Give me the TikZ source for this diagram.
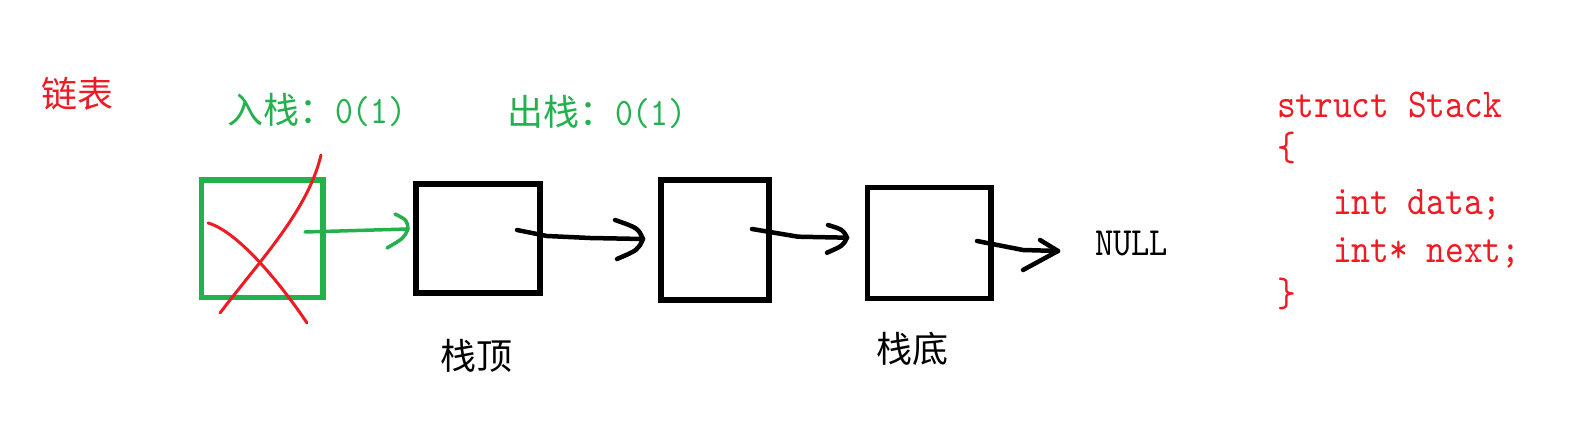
\documentclass[tikz,border=0pt]{standalone}
\usepackage{fontspec}
\newfontfamily\cjk{Noto Sans CJK SC}
\newfontfamily\codefont{lmmono10-regular.otf}[FakeStretch=0.87]
\usetikzlibrary{calc}
\definecolor{pred}{RGB}{237,28,36}
\definecolor{pgreen}{RGB}{34,177,76}
\newcommand\cjkL{\cjk\fontsize{36}{40}\selectfont}
\newcommand\codeM{\codefont\fontsize{39}{44}\selectfont}
\newcommand\codeL{\codefont\fontsize{41}{46}\selectfont}
\begin{document}
\begin{tikzpicture}[x=1pt,y=-1pt,
  box/.style={draw, line width=5.2pt, inner sep=0pt, outer sep=0pt},
  blkarrow/.style={draw=black, line width=4.5pt, line cap=round, line join=round},
  grnarrow/.style={draw=pgreen, line width=3.5pt, line cap=round, line join=round},
  redline/.style={draw=pred, line width=3pt, line cap=round, line join=round},
  lbl/.style={anchor=base west, inner sep=0pt, outer sep=0pt, font=\cjkL},
  code/.style={anchor=base west, inner sep=0pt, outer sep=0pt, text=pred, font=\codeL}]
\useasboundingbox (0,0) rectangle (1573,427);
\fill[white] (0,0) rectangle (1573,427);

% boxes
\node[box, draw=pgreen, minimum width=121.5pt, minimum height=117.5pt] (b1) at (262.25,238.75) {};
\node[box, minimum width=124pt, minimum height=109pt] (b2) at (478,238.5) {};
\node[box, minimum width=108pt, minimum height=120pt] (b3) at (715,240) {};
\node[box, minimum width=123.5pt, minimum height=111pt] (b4) at (929.25,243) {};

% NULL
\node[anchor=base west, inner sep=0pt, outer sep=0pt, font=\codefont\fontsize{40}{44}\selectfont] (null) at (1095,256) {NULL};

% red cross
\draw[redline] (220,313) .. controls (262,258) and (308,210) .. (321,155);
\draw[redline] (208,223) .. controls (240,232) and (285,290) .. (307,323);

% arrow 1 (green)
\coordinate (a1s) at ($(b1.east)+(-18,-6.75)$);
\coordinate (a1t) at ($(b2.west)+(-8,-9.5)$);
\draw[grnarrow] (a1s) -- (a1t);
\begin{scope}[shift={(a1t)}]
  \draw[grnarrow] (-13,-15) .. controls (-1,-9) .. (0,0) .. controls (-4,9) .. (-21,19);
\end{scope}

% arrow 2
\coordinate (a2s) at ($(b2.east)+(-23,-8.5)$);
\coordinate (a2t) at ($(b3.west)+(-18,-1)$);
\draw[blkarrow] (a2s) -- ++(30,6) -- ++(43,2) -- (a2t);
\begin{scope}[shift={(a2t)}]
  \draw[blkarrow] (-28,-19) .. controls (-5,-11) .. (0,0) .. controls (-5,11) .. (-26,20);
\end{scope}

% arrow 3
\coordinate (a3s) at ($(b3.east)+(-17,-11)$);
\coordinate (a3t) at ($(b4.west)+(-20.5,-5.3)$);
\draw[blkarrow] (a3s) -- ++(46,7.7) -- (a3t);
\begin{scope}[shift={(a3t)}]
  \draw[blkarrow] (-19,-12.7) .. controls (-4,-8) .. (0,0) .. controls (-4,8) .. (-20,15);
\end{scope}

% arrow 4
\coordinate (a4s) at ($(b4.east)+(-14,-2)$);
\coordinate (a4t) at ($(null.base west)+(-37,-5)$);
\draw[blkarrow] (a4s) -- ++(46,9) -- (a4t);
\begin{scope}[shift={(a4t)}]
  \draw[blkarrow] (-18,-11) -- (0,0) -- (-35,19);
\end{scope}

% labels
\node[lbl, text=pred] (lianbiao) at (41,108) {链表};
\node[lbl, text=pgreen] (push) at (227,124) {入栈：{\codeM 0(1)}};
\node[lbl, text=pgreen] (pop) at (507,126) {出栈：{\codeM 0(1)}};
\node[lbl] (top) at (440,369.5) {栈顶};
\node[lbl] (bottom) at (876,362.5) {栈底};

% code
\node[code] (c1) at (1277,118) {struct Stack};
\node[code] (c2) at (1277,160.75) {\{};
\node[code] (c3) at (1333,215) {int data;};
\node[code] (c4) at (1333,263) {int* next;};
\node[code] (c5) at (1277,307) {\}};
\end{tikzpicture}
\end{document}
